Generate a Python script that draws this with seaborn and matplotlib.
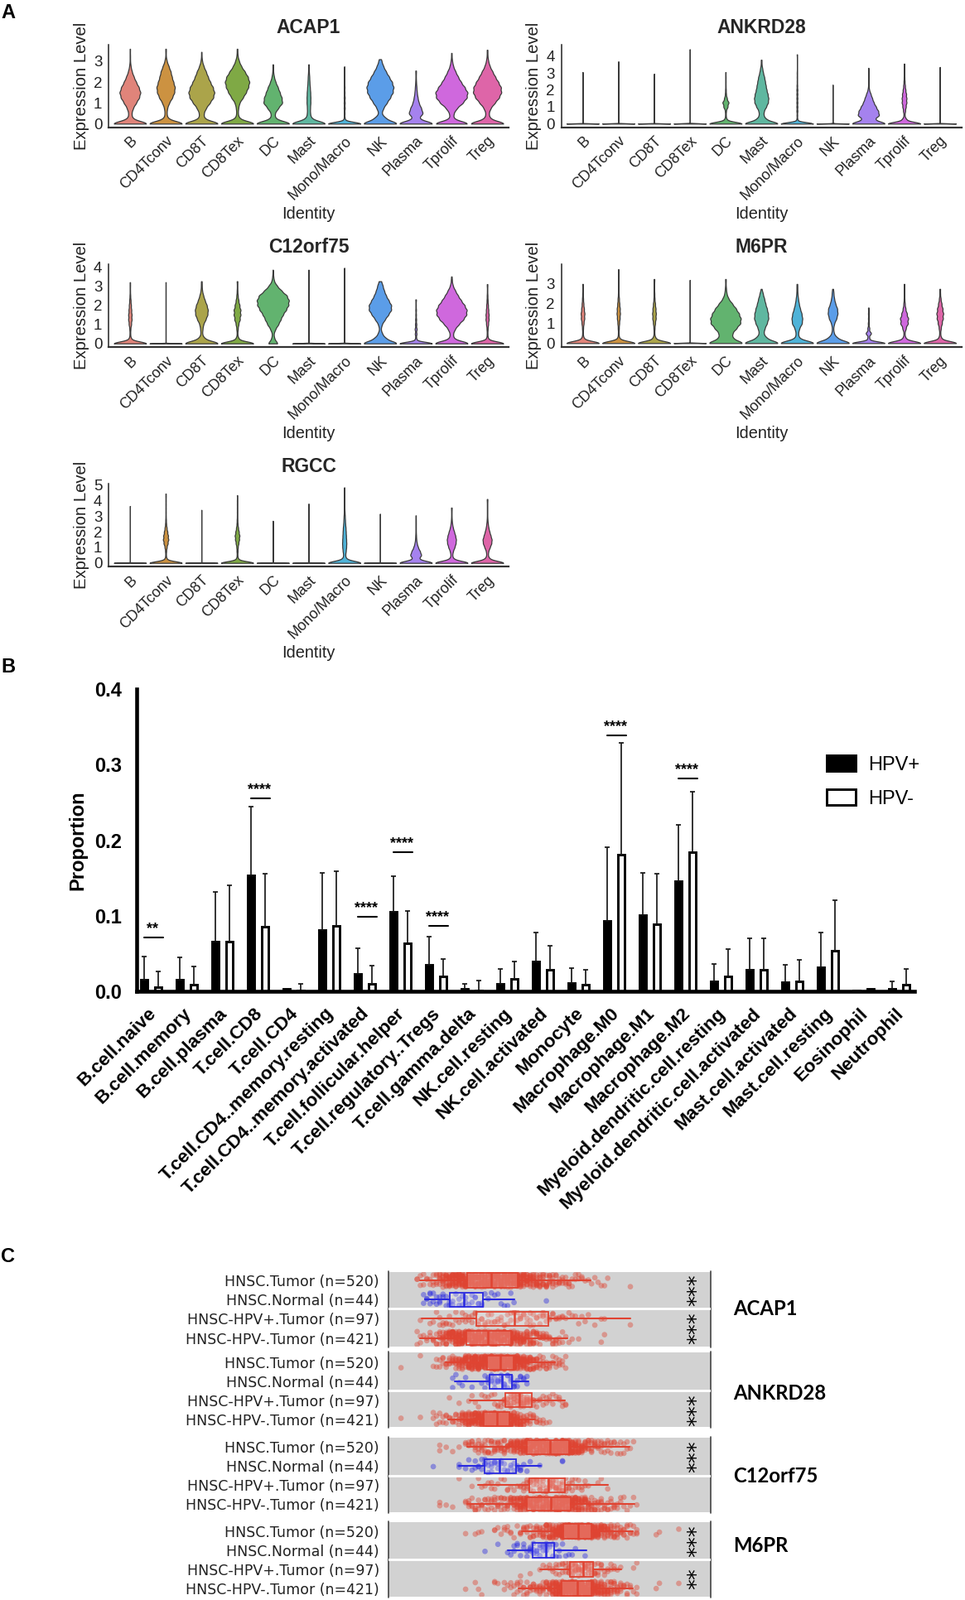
import matplotlib
matplotlib.use('Agg')
import matplotlib.pyplot as plt
from matplotlib.transforms import ScaledTranslation
import numpy as np
import pandas as pd
import seaborn as sns

W, H = 1165, 1932

# ---- Panel A: expression per cell type ----
CELL_TYPES = ['B', 'CD4Tconv', 'CD8T', 'CD8Tex', 'DC', 'Mast', 'Mono/Macro', 'NK', 'Plasma', 'Tprolif', 'Treg']
VIOLIN_COLORS = ['#E0847A', '#CC9241', '#ABA44A', '#7FA945', '#62B36F', '#5FB7A0',
                 '#4FB3D8', '#5B9DE8', '#A582EE', '#CF68DD', '#DE65A8']
# cell counts in expression bins of 0.25
LEVELS = [0, .25, .5, .75, 1, 1.25, 1.5, 1.75, 2, 2.25, 2.5, 2.75, 3, 3.25, 3.5, 3.75, 4, 4.25, 4.5, 4.75]

ACAP1_COUNTS = [[100, 12, 8, 16, 32, 48, 55, 46, 32, 20, 10, 4, 1, 1],
                [100, 10, 5, 8, 18, 34, 45, 48, 40, 32, 26, 16, 6, 1, 1],
                [100, 14, 12, 24, 44, 62, 68, 60, 46, 34, 24, 12, 4, 1],
                [100, 10, 4, 6, 12, 30, 46, 58, 64, 56, 40, 22, 10, 3, 1],
                [100, 12, 10, 28, 50, 46, 36, 26, 14, 6, 2, 1],
                [100, 14, 8, 8, 10, 10, 9, 7, 5, 4, 2, 1],
                [100, 3, 2, 3, 3, 3, 2, 2, 1, 1, 1],
                [100, 30, 8, 18, 36, 54, 68, 72, 64, 48, 32, 18, 8],
                [100, 14, 38, 28, 16, 10, 6, 4, 2, 1, 1],
                [100, 10, 12, 30, 62, 84, 88, 72, 52, 36, 22, 10, 4, 1],
                [100, 14, 8, 18, 40, 62, 74, 72, 58, 42, 28, 14, 6, 2, 1]]
ACAP1_TOPS = [3.6, 3.6, 3.45, 3.6, 2.85, 2.85, 2.75, 3.1, 2.55, 3.4, 3.55]
ACAP1_BW = [.12, .12, .12, .12, .12, .12, .08, .12, .12, .12, .12]

ANKRD28_COUNTS = [[100], [100], [100], [100],
                  [100, 6, 2, 3, 12, 18, 8, 3, 2, 1, 1, 1],
                  [100, 26, 12, 14, 26, 36, 38, 34, 28, 24, 20, 16, 10, 6, 2, 1],
                  [100, 3, 2, 3, 3, 3, 3, 3, 3, 2, 1, 1, 1],
                  [100],
                  [100, 30, 58, 52, 40, 28, 20, 12, 4, 1, 1, 1, 1],
                  [100, 12, 3, 6, 10, 14, 14, 12, 8, 5, 3, 2, 1, 1],
                  [100]]
ANKRD28_TOPS = [3.05, 3.68, 2.95, 4.4, 3.05, 3.78, 4.1, 2.3, 3.3, 3.55, 3.35]
ANKRD28_BW = [.012, .012, .012, .012, .1, .12, .08, .012, .12, .1, .012]

C12ORF75_COUNTS = [[100, 6, 2, 3, 7, 10, 10, 8, 6, 4, 2, 1, 1],
                   [100],
                   [100, 16, 4, 6, 10, 22, 32, 34, 28, 18, 10, 4, 2, 1],
                   [100, 8, 2, 4, 8, 16, 20, 20, 14, 8, 4, 2, 1, 1],
                   [40, 12, 6, 20, 44, 62, 80, 105, 124, 128, 112, 70, 34, 10, 4, 1],
                   [100], [100],
                   [100, 32, 12, 4, 10, 26, 44, 60, 60, 46, 32, 22, 14, 6],
                   [100, 4, 5, 6, 4, 3, 2, 2, 1, 1],
                   [100, 12, 8, 18, 38, 62, 78, 80, 68, 50, 34, 20, 8, 2, 1],
                   [100, 5, 2, 3, 6, 9, 9, 7, 5, 3, 2, 1, 1]]
C12ORF75_TOPS = [3.2, 3.2, 3.2, 3.25, 3.85, 3.85, 3.95, 3.1, 2.3, 3.35, 3.1]
C12ORF75_BW = [.1, .012, .12, .1, .12, .012, .012, .12, .08, .12, .1]

M6PR_COUNTS = [[100, 6, 2, 3, 6, 10, 11, 8, 5, 3, 2, 1, 1],
               [100, 5, 2, 3, 5, 8, 10, 9, 6, 4, 2, 1, 1, 1, 1],
               [100, 8, 2, 3, 6, 10, 11, 9, 6, 3, 2, 1, 1, 1],
               [100],
               [100, 38, 36, 58, 80, 82, 72, 56, 36, 16, 6, 3, 1, 1],
               [100, 28, 12, 18, 30, 38, 36, 30, 22, 16, 8, 2],
               [100, 10, 6, 12, 26, 28, 24, 16, 10, 6, 3, 2, 1],
               [100, 24, 6, 3, 8, 20, 26, 24, 14, 8, 4, 2],
               [100, 6, 16, 6, 3, 2, 2, 1],
               [100, 8, 3, 10, 22, 24, 16, 8, 4, 2, 1, 1, 1],
               [100, 8, 3, 6, 12, 18, 20, 16, 10, 5, 2, 1]]
M6PR_TOPS = [3.0, 3.75, 3.2, 3.2, 3.2, 2.55, 2.95, 2.6, 1.8, 3.0, 2.75]
M6PR_BW = [.1, .1, .1, .012, .12, .12, .12, .12, .08, .1, .1]

RGCC_COUNTS = [[100],
               [100, 6, 2, 3, 6, 12, 16, 14, 10, 6, 3, 2, 1, 1, 1, 1, 1, 1],
               [100],
               [100, 6, 2, 3, 4, 8, 12, 14, 10, 6, 3, 2, 1, 1, 1, 1, 1],
               [100], [100],
               [100, 10, 5, 8, 10, 11, 10, 9, 8, 7, 5, 4, 3, 2, 1, 1, 1, 1, 1],
               [100],
               [100, 14, 30, 22, 12, 6, 3, 2, 1, 1, 1, 1],
               [100, 10, 4, 8, 16, 22, 24, 20, 14, 8, 4, 2, 1, 1, 1],
               [100, 12, 4, 6, 14, 22, 24, 18, 12, 7, 4, 2, 1, 1, 1, 1, 1]]
RGCC_TOPS = [3.65, 4.45, 3.4, 4.35, 2.7, 3.8, 4.85, 3.15, 3.05, 3.55, 4.1]
RGCC_BW = [.012, .1, .012, .1, .012, .012, .12, .012, .12, .12, .12]

# ---- Panel B: immune cell proportions ----
IMMUNE_CELLS = ['B.cell.naive', 'B.cell.memory', 'B.cell.plasma', 'T.cell.CD8', 'T.cell.CD4',
                'T.cell.CD4..memory.resting', 'T.cell.CD4..memory.activated', 'T.cell.follicular.helper',
                'T.cell.regulatory..Tregs', 'T.cell.gamma.delta', 'NK.cell.resting', 'NK.cell.activated',
                'Monocyte', 'Macrophage.M0', 'Macrophage.M1', 'Macrophage.M2',
                'Myeloid.dendritic.cell.resting', 'Myeloid.dendritic.cell.activated',
                'Mast.cell.activated', 'Mast.cell.resting', 'Eosinophil', 'Neutrophil']
HPV_POS = [.0146, .0146, .0655, .153, .0025, .081, .0227, .105, .035, .0025, .0091,
           .0388, .011, .0933, .1003, .146, .0128, .028, .0117, .032, .0003, .0025]
HPV_POS_TOP = [.046, .045, .131, .245, .0025, .157, .057, .1525, .0717, .0099, .0296,
               .078, .03, .191, .157, .22, .0355, .07, .0348, .0776, .0003, .0128]
HPV_NEG = [.0055, .0084, .065, .0856, .0005, .086, .0099, .063, .0194, .0005, .016,
           .0278, .009, .181, .089, .184, .019, .028, .013, .054, .0025, .008]
HPV_NEG_TOP = [.026, .0326, .1405, .156, .0095, .159, .034, .1065, .0428, .0143, .0395,
               .0604, .0285, .3286, .156, .2645, .0553, .07, .0413, .12, .0025, .0293]
SIG_CELLS = ['B.cell.naive', 'T.cell.CD8', 'T.cell.CD4..memory.activated', 'T.cell.follicular.helper',
             'T.cell.regulatory..Tregs', 'Macrophage.M0', 'Macrophage.M2']
SIG_LEVELS = [.0713, .2554, .0988, .184, .0864, .339, .2817]
SIG_LABELS = ['**', '****', '****', '****', '****', '****', '****']

# ---- Panel C: TIMER style expression rows ----
ROW_LABELS = ['HNSC.Tumor (n=520)', 'HNSC.Normal (n=44)', 'HNSC-HPV+.Tumor (n=97)', 'HNSC-HPV-.Tumor (n=421)']
ROW_COLORS = ['#E04432', '#2A2AE0', '#E04432', '#E04432']
# samples per unit of the x scale (0-100) from a start value
ACAP1_STARTS = [9, 11, 10, 9]
ACAP1_HIST = [[2, 2, 2, 2, 2, 3, 4, 6, 8, 10, 12, 14, 15, 16, 16, 16, 16, 16, 16, 16, 16, 16, 16, 16, 16, 16, 16, 16, 16, 16, 16, 16,
               14, 13, 11, 10, 10, 9, 8, 7, 6, 6, 5, 4, 4, 3, 3, 3, 2, 2, 2, 2, 1, 1, 1, 1, 1, 1, 1, 1, 0, 0, 0, 0, 0, 0, 1],
              [2, 2, 3, 2, 2, 3, 2, 2, 2, 2, 1, 2, 2, 2, 1, 2, 2, 2, 2, 1, 1, 1, 1, 1, 1, 1, 1, 1, 1, 0, 0, 0, 0, 0, 0, 0, 0, 0, 1],
              [1, 0, 0, 1, 1, 1, 2, 2, 2, 2, 1, 2, 1, 2, 2, 2, 2, 2, 2, 2, 2, 2, 2, 2, 2, 2, 2, 2, 2, 2, 2, 3, 2, 2, 3, 2, 2, 2, 3, 2, 2,
               2, 2, 2, 2, 1, 1, 1, 1, 1, 1, 1, 1, 0, 1, 0, 1, 1, 0, 0, 0, 0, 0, 0, 0, 1],
              [2, 2, 1, 2, 2, 3, 3, 5, 7, 9, 12, 14, 15, 16, 16, 16, 15, 15, 15, 15, 15, 15, 15, 15, 15, 15, 15, 15, 15, 15,
               12, 11, 10, 9, 8, 7, 7, 6, 5, 5, 4, 3, 3, 3, 2, 2, 1, 1, 1, 0, 1, 0, 0, 0, 0, 0, 0, 1, 1]]
ANKRD28_STARTS = [4, 20, 19, 4]
ANKRD28_HIST = [[1, 0, 0, 0, 0, 0, 1, 0, 0, 0, 1, 2, 2, 3, 3, 4, 5, 6, 8, 10, 12, 14, 16, 18, 20, 20, 20, 22, 22, 22, 22, 22, 22, 22, 22, 22,
                 18, 16, 14, 12, 10, 8, 6, 5, 4, 4, 3, 3, 3, 3, 2, 2],
                [2, 1, 1, 1, 1, 0, 1, 0, 0, 1, 2, 3, 3, 3, 3, 3, 3, 3, 3, 3, 2, 2, 2, 2],
                [1, 0, 0, 1, 0, 0, 1, 1, 1, 1, 1, 1, 1, 1, 2, 2, 2, 3, 5, 6, 6, 6, 6, 6, 6, 5, 3, 2, 2, 2, 2, 2, 2, 1, 2, 2, 2],
                [1, 0, 0, 0, 0, 0, 1, 0, 0, 0, 2, 2, 2, 2, 3, 2, 3, 3, 4, 8, 10, 12, 14, 16, 18, 18, 22, 22, 22, 22, 24, 24, 24, 24, 20,
                 14, 12, 10, 7, 5, 4, 3, 3, 2, 2, 1, 1]]
C12ORF75_STARTS = [16, 14, 22, 16]
C12ORF75_HIST = [[2, 0, 1, 0, 1, 0, 1, 0, 2, 3, 3, 3, 4, 4, 4, 4, 4, 5, 5, 5, 6, 6, 8, 10, 11, 12, 14, 17, 17, 17, 17, 17, 17, 17, 17,
                  20, 20, 20, 20, 20, 20, 16, 14, 12, 10, 8, 6, 5, 5, 4, 4, 3, 3, 3, 2, 2, 2, 2, 2, 1, 1],
                 [1, 0, 0, 0, 0, 0, 0, 0, 2, 0, 1, 1, 1, 2, 2, 2, 3, 3, 3, 3, 2, 2, 2, 2, 2, 2, 2, 3, 1, 1, 1, 0, 0, 1, 0, 0, 0, 0, 0, 0, 2],
                 [1, 0, 0, 0, 1, 0, 1, 1, 1, 1, 2, 1, 1, 1, 1, 2, 1, 1, 1, 2, 3, 4, 4, 4, 4, 4, 4, 4, 5, 5, 5, 4, 4, 3, 3, 3, 2, 2, 2, 2, 1, 0, 0, 1, 1, 0, 1],
                 [2, 0, 1, 0, 1, 0, 0, 0, 2, 3, 3, 3, 3, 3, 3, 3, 3, 4, 4, 4, 4, 5, 6, 8, 10, 12, 13, 13, 13, 13, 13, 13, 13, 13, 13,
                  16, 16, 16, 16, 16, 16, 16, 14, 12, 10, 9, 8, 6, 5, 4, 4, 3, 3, 3, 3, 2, 2, 2, 1, 1, 1, 1]]
M6PR_STARTS = [24, 30, 41, 24]
M6PR_HIST = [[1, 0, 0, 1, 1, 1, 0, 0, 0, 2, 1, 1, 2, 2, 2, 1, 1, 3, 3, 3, 3, 4, 4, 5, 6, 8, 10, 12, 14, 16, 26, 26, 26, 26, 26, 26, 26, 26, 26, 26,
              18, 14, 12, 10, 8, 7, 6, 5, 4, 4, 3, 3, 2, 3, 0, 0, 0, 0, 0, 1, 1, 0, 0, 0, 0, 0, 1],
             [1, 0, 0, 0, 1, 0, 0, 1, 1, 2, 2, 1, 2, 2, 3, 3, 3, 3, 3, 3, 2, 2, 2, 2, 1, 1, 1, 1, 1, 0, 0, 1],
             [1, 0, 0, 1, 0, 0, 1, 1, 1, 2, 2, 3, 2, 3, 3, 5, 6, 6, 6, 6, 6, 6, 6, 4, 3, 3, 2, 2, 2, 2, 1, 1, 0, 0, 0, 1, 1],
             [1, 0, 0, 1, 1, 1, 0, 0, 0, 2, 1, 0, 2, 1, 2, 2, 3, 3, 3, 3, 4, 4, 4, 5, 5, 6, 9, 12, 16, 18, 22, 22, 22, 22, 22, 22, 22, 22, 22, 22,
              16, 13, 11, 9, 8, 7, 6, 5, 4, 3, 3, 2, 1, 2, 0, 0, 0, 0, 0, 1, 1, 0, 0, 0, 0, 0, 1]]
# whisker low, q1, median, q3, whisker high per row
ACAP1_BOX = [[9.8, 24.6, 32, 40, 62.8], [11.5, 19, 23.4, 29.4, 39], [10.5, 27.3, 39, 49.7, 75], [9.8, 24.2, 31, 38, 55.6]]
ANKRD28_BOX = [[17.7, 30.6, 34.8, 38.9, 51.7], [20.7, 31.3, 35.3, 38.3, 43.4], [25.2, 36.3, 40.6, 44.4, 54.7], [18.5, 29.7, 33.7, 37.6, 45.5]]
C12ORF75_BOX = [[24.5, 42.9, 50, 56, 74.7], [22, 29.8, 34.6, 39.7, 47.3], [27.8, 43.7, 49.7, 54.7, 68], [24.5, 42.9, 50.4, 56.6, 76.3]]
M6PR_BOX = [[41.4, 54.2, 58.8, 63, 75.7], [37.1, 44.8, 48.8, 51.5, 61.3], [47, 56.4, 60.5, 63.4, 72.2], [40.3, 53.6, 58.5, 63, 75.7]]


def px_axes(left, top, right, bottom):
    return fig.add_axes([left / W, 1 - bottom / H, (right - left) / W, (bottom - top) / H])


def draw_violins(box, zero_y, unit, title, counts, tops, bws, yticks):
    ax = px_axes(*box)
    for i, name in enumerate(CELL_TYPES):
        values = np.append(np.repeat(LEVELS[:len(counts[i])], counts[i]), tops[i])
        sns.violinplot(x=[name] * len(values), y=values, order=CELL_TYPES, color=VIOLIN_COLORS[i], saturation=1,
                       width=.9, density_norm='width', cut=0, inner=None, bw_method=bws[i] / values.std(),
                       linewidth=.9, linecolor='#3a3a3a', ax=ax)
    ax.set_xlim(-.6, 10.6)
    ax.set_ylim(-(box[3] - zero_y) / unit, (zero_y - box[1]) / unit)
    ax.set_yticks(yticks)
    for side in ['top', 'right']:
        ax.spines[side].set_visible(False)
    ax.spines['left'].set_linewidth(1.1)
    ax.spines['left'].set_color('#222222')
    ax.spines['bottom'].set_linewidth(1.6)
    ax.spines['bottom'].set_color('#333333')
    ax.tick_params(axis='y', length=3.5, width=1, labelsize=13.5, pad=2, color='#222222', labelcolor='#222222')
    ax.tick_params(axis='x', length=3.5, width=1, labelsize=13, pad=2, color='#222222', labelcolor='#222222')
    plt.setp(ax.get_xticklabels(), rotation=45, ha='right', rotation_mode='anchor')
    ax.set_ylabel('Expression Level', fontsize=14.6, va='center', color='#222222')
    ax.yaxis.set_label_coords(-33 / (box[2] - box[0]), .5)
    ax.set_xlabel('Identity', fontsize=14.4, va='center', color='#222222')
    ax.xaxis.set_label_coords(.5, -104 / (box[3] - box[1]))
    ax.set_title(title, fontsize=16.5, fontweight='bold', y=1, pad=0, va='center')
    ax.title.set_position((.5, (box[3] - (box[1] - 21)) / (box[3] - box[1])))
    return ax


def draw_proportions():
    ax = px_axes(165, 832.3, 1104, 1196.7)
    df = pd.DataFrame({'cell': IMMUNE_CELLS * 2,
                       'value': HPV_POS + HPV_NEG,
                       'group': ['HPV+'] * len(HPV_POS) + ['HPV-'] * len(HPV_NEG)})
    sns.barplot(data=df, x='cell', y='value', hue='group', order=IMMUNE_CELLS, hue_order=['HPV+', 'HPV-'],
                palette={'HPV+': 'black', 'HPV-': 'white'}, edgecolor='black', linewidth=2.1, saturation=1,
                width=.76, gap=.5, errorbar=None, ax=ax)
    x = np.arange(len(IMMUNE_CELLS))
    for offset, means, tops in [(-.19, HPV_POS, HPV_POS_TOP), (.2, HPV_NEG, HPV_NEG_TOP)]:
        means, tops = np.array(means), np.array(tops)
        shown = tops > means
        ax.errorbar(x[shown] + offset, means[shown], yerr=[np.zeros(shown.sum()), (tops - means)[shown]], fmt='none',
                    ecolor='#111111', elinewidth=1.2, capsize=2.2, capthick=1.2, zorder=1)
    for cell, level, label in zip(SIG_CELLS, SIG_LEVELS, SIG_LABELS):
        pos = IMMUNE_CELLS.index(cell) + .07
        ax.plot([pos - .26, pos + .26], [level, level], color='black', lw=1.5)
        ax.text(pos - .03, level + .0115, label, ha='center', va='center', fontsize=13, fontweight='bold', color='black')
    ax.set_xlim(-.407, 21.43)
    ax.set_ylim(0, .4)
    ax.set_yticks([0, .1, .2, .3, .4])
    ax.set_yticklabels(['0.0', '0.1', '0.2', '0.3', '0.4'])
    for side in ['top', 'right']:
        ax.spines[side].set_visible(False)
    for side in ['left', 'bottom']:
        ax.spines[side].set_linewidth(3.3)
        ax.spines[side].set_color('black')
    ax.tick_params(axis='both', length=11, width=3.3, pad=2, color='black', labelcolor='black')
    ax.tick_params(axis='y', labelsize=17)
    ax.tick_params(axis='x', labelsize=16.2, pad=1)
    plt.setp(ax.get_yticklabels(), fontweight='bold')
    shift = ScaledTranslation(-5 / 100, 0, fig.dpi_scale_trans)
    for label in ax.get_xticklabels():
        label.set(fontweight='bold', rotation=45, ha='right', rotation_mode='anchor')
        label.set_transform(label.get_transform() + shift)
    ax.set_xlabel('')
    ax.set_ylabel('Proportion', fontsize=17, fontweight='bold', va='center', color='black')
    ax.yaxis.set_label_coords(-71 / 939, .5)
    handles, labels = ax.get_legend_handles_labels()
    ax.legend(handles, labels, loc='upper left', bbox_to_anchor=(998 / W, 1 - 912 / H), bbox_transform=fig.transFigure,
              frameon=False, borderpad=0, borderaxespad=0, handlelength=1.48, handleheight=.85, labelspacing=.8,
              handletextpad=.66, fontsize=17, labelcolor='black')


def draw_rows(box, first_row, last_row, white_y, gene, gene_y, starts, hists, boxes, stars):
    ax = px_axes(*box)
    rows, values = [], []
    for label, start, hist in zip(ROW_LABELS, starts, hists):
        row_values = np.repeat(np.arange(start, start + len(hist)), hist)
        values.extend(row_values)
        rows.extend([label] * len(row_values))
    df = pd.DataFrame({'row': rows, 'value': values})
    ax.set_facecolor('#D2D2D2')
    sns.stripplot(data=df, x='value', y='row', order=ROW_LABELS, hue='row', hue_order=ROW_LABELS,
                  palette=dict(zip(ROW_LABELS, ROW_COLORS)), orient='h', jitter=.36, size=4.8, alpha=.42,
                  linewidth=0, legend=False, ax=ax)
    for i, stats in enumerate(boxes):
        color = ROW_COLORS[i]
        item = dict(zip(['whislo', 'q1', 'med', 'q3', 'whishi'], stats))
        item['fliers'] = []
        ax.bxp([item], positions=[i], widths=.74, orientation='horizontal', patch_artist=True, showcaps=False,
               showfliers=False, manage_ticks=False, zorder=3,
               boxprops=dict(facecolor=(1, 1, 1, .2), edgecolor=color, linewidth=1.3),
               whiskerprops=dict(color=color, linewidth=1.5), medianprops=dict(color=color, linewidth=1.8))
    step = (last_row - first_row) / 3
    ax.set_ylim(3 + (box[3] - last_row) / step, -(first_row - box[1]) / step)
    ax.set_xlim(0, 100)
    ax.axhline((white_y - first_row) / step, color='white', lw=2, zorder=4)
    ax.set_xticks([])
    ax.set_xlabel('')
    ax.set_ylabel('')
    for spine in ax.spines.values():
        spine.set_visible(False)
    for xpos in [0, 1]:
        ax.plot([xpos, xpos], [-.015, 1.015], transform=ax.transAxes, clip_on=False, color='#444444', lw=1.2)
    ax.tick_params(axis='y', length=4, width=1.4, color='#333333', labelsize=12.5, pad=3.5, labelcolor='#222222')
    plt.setp(ax.get_yticklabels(), family='DejaVu Sans')
    for center, text in stars:
        ax.text(95.8, center, text, rotation=90, ha='center', va='center', fontsize=18.5, family='DejaVu Sans',
                color='black', zorder=5)
    fig.text(885 / W, 1 - (gene_y + 2) / H, gene, fontsize=17.2, fontweight='bold', family='Lato', va='center', color='black')


sns.set_style('white')
plt.rcParams['font.family'] = ['Liberation Sans', 'DejaVu Sans']

fig = plt.figure(figsize=(W / 100, H / 100), dpi=100)

draw_violins((131, 54, 614, 154), 149.3, 25.1, 'ACAP1', ACAP1_COUNTS, ACAP1_TOPS, ACAP1_BW, [0, 1, 2, 3])
draw_violins((677.5, 54, 1160.5, 154), 149.3, 20.4, 'ANKRD28', ANKRD28_COUNTS, ANKRD28_TOPS, ANKRD28_BW, [0, 1, 2, 3, 4])
draw_violins((131, 319.3, 614, 419.3), 414.7, 23.1, 'C12orf75', C12ORF75_COUNTS, C12ORF75_TOPS, C12ORF75_BW, [0, 1, 2, 3, 4])
draw_violins((677.5, 319.3, 1160.5, 419.3), 414.3, 23.8, 'M6PR', M6PR_COUNTS, M6PR_TOPS, M6PR_BW, [0, 1, 2, 3])
draw_violins((131, 584.3, 614, 684.3), 679.7, 18.8, 'RGCC', RGCC_COUNTS, RGCC_TOPS, RGCC_BW, [0, 1, 2, 3, 4, 5])

draw_proportions()

draw_rows((468.5, 1536, 858.5, 1626), 1546, 1615.7, 1580, 'ACAP1', 1579, ACAP1_STARTS, ACAP1_HIST, ACAP1_BOX,
          [(.5, '***'), (2.5, '***')])
draw_rows((468.5, 1633, 858.5, 1723), 1645.3, 1713.7, 1679, 'ANKRD28', 1681, ANKRD28_STARTS, ANKRD28_HIST, ANKRD28_BOX,
          [(2.5, '***')])
draw_rows((468.5, 1736, 858.5, 1826), 1747.3, 1816, 1781.7, 'C12orf75', 1780, C12ORF75_STARTS, C12ORF75_HIST, C12ORF75_BOX,
          [(.5, '***')])
draw_rows((468.5, 1838, 858.5, 1928), 1849, 1918, 1883, 'M6PR', 1864, M6PR_STARTS, M6PR_HIST, M6PR_BOX,
          [(.5, '***'), (2.5, '**')])

for letter, ypos in [('A', 16), ('B', 805), ('C', 1518)]:
    fig.text(1 / W, 1 - ypos / H, letter, fontsize=17, fontweight='bold', va='center', color='black')

fig.savefig('out.png', dpi=100)
